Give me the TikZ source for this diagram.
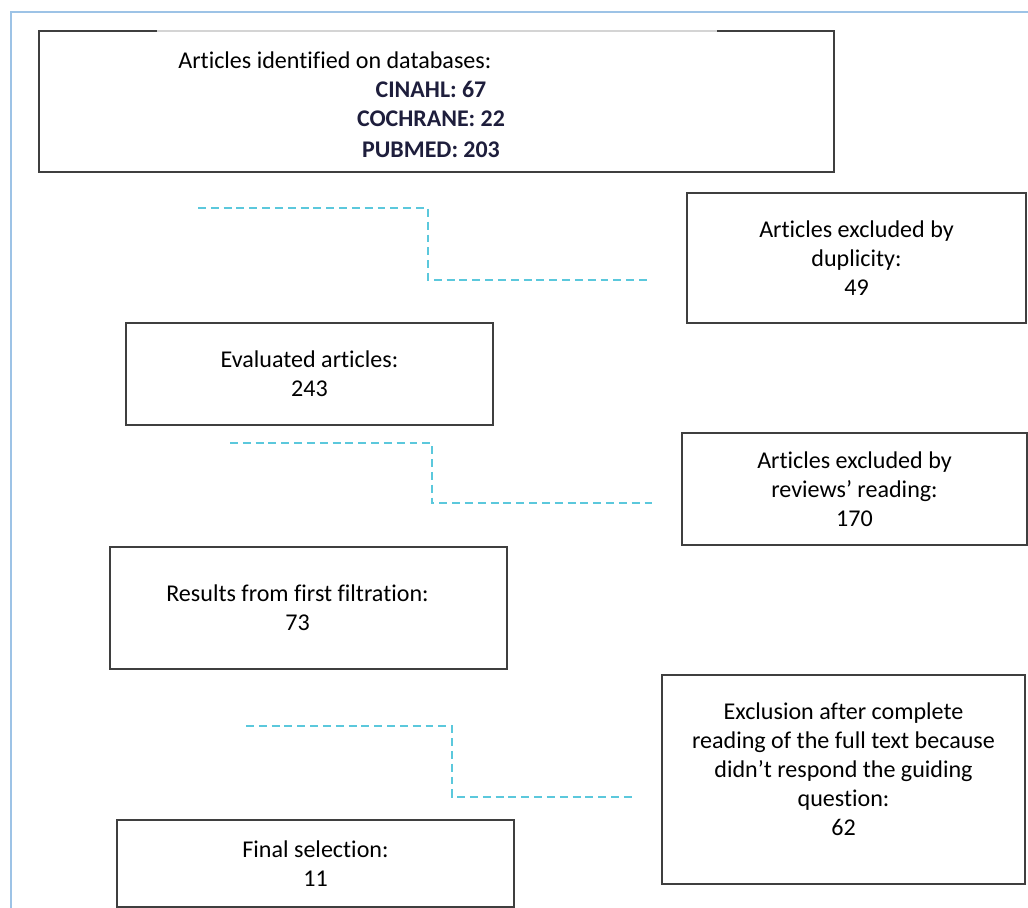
\documentclass[tikz,border=0pt]{standalone}
\usepackage{fontspec}
\setmainfont{Carlito}[Ligatures=NoCommon]
\usepackage{tikz}
\usetikzlibrary{positioning, calc}
\definecolor{frameblue}{HTML}{9DC3E6}
\definecolor{boxline}{HTML}{3F3F3F}
\definecolor{edgegray}{HTML}{D4D4D4}
\definecolor{dashcyan}{HTML}{5BC8DC}
\definecolor{dbnavy}{HTML}{1E1E3C}

\begin{document}
\begin{tikzpicture}[x=0.02cm, y=-0.02cm]
  \tikzstyle{box}=[draw=boxline, line width=1.1pt, fill=white,
    align=center, inner sep=0pt,
    font=\fontsize{13.7}{16.5}\selectfont]
  \tikzstyle{headtxt}=[inner sep=0pt, font=\fontsize{13.7}{16.5}\selectfont]
  \tikzstyle{dbtxt}=[inner sep=0pt, text=dbnavy,
    font=\fontsize{13.6}{16.5}\selectfont\bfseries]
  \tikzstyle{dashlink}=[dashcyan, line width=1.2pt,
    dash pattern=on 4.5pt off 2.8pt]

  \useasboundingbox (0,0) rectangle (1028,908);
  \draw[frameblue, line width=1.6pt] (11,908) -- (11,12) -- (1028,12);

  % databases
  \node[box, minimum width=15.9cm, minimum height=2.82cm] (idb) at (436.5,101.5) {};
  \draw[edgegray, line width=1.1pt] (157,31) -- (717,31);
  \node[headtxt, anchor=west] (idbhead) at (178,60) {Articles identified on databases:};
  \node[dbtxt] (cinahl) at (431,89)  {CINAHL: 67};
  \node[dbtxt] (cochr)  at (431,119) {COCHRANE: 22};
  \node[dbtxt] (pubmed) at (431,150) {PUBMED: 203};

  % left column
  \node[box, minimum width=7.34cm, minimum height=2.04cm] (eva) at (309.5,374)
    {Evaluated articles:\\243};
  \node[box, minimum width=7.94cm, minimum height=2.44cm] (res) at (308.5,608)
    {Results from first filtration:\hspace*{0.44cm}\\73\hspace*{0.44cm}};
  \node[box, minimum width=7.94cm, minimum height=1.74cm] (fin) at (315.5,863.5)
    {Final selection:\\11};

  % right column
  \node[box, minimum width=6.78cm, minimum height=2.6cm] (dup) at (856.5,258)
    {Articles excluded by\\duplicity:\\49};
  \node[box, minimum width=6.9cm, minimum height=2.24cm] (rev) at (854.5,489)
    {Articles excluded by\\reviews’ reading:\\170};
  \node[box, minimum width=7.26cm, minimum height=4.18cm, text depth=0.4cm] (exc) at (843.5,779.5)
    {Exclusion after complete\\reading of the full text because\\didn’t respond the guiding\\question:\\62};

  % dashed links
  \coordinate (c1a) at (198,208);
  \coordinate (c1b) at (428,280);
  \coordinate (c1c) at (649,280);
  \coordinate (c2a) at (230,443);
  \coordinate (c2b) at (432,503);
  \coordinate (c2c) at (656,503);
  \coordinate (c3a) at (246,726);
  \coordinate (c3b) at (452,797);
  \coordinate (c3c) at (633,797);

  \draw[dashlink] (c1a) -| (c1b) -- (c1c);
  \draw[dashlink] (c2a) -| (c2b) -- (c2c);
  \draw[dashlink] (c3a) -| (c3b) -- (c3c);
\end{tikzpicture}
\end{document}
